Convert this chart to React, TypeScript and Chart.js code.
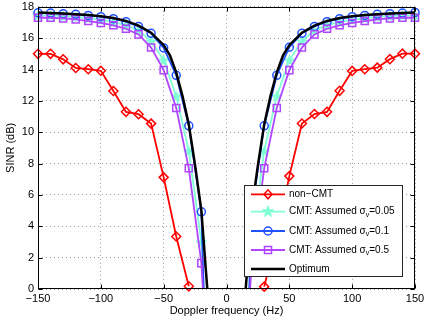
import React, { useEffect, useRef } from 'react';
import { Chart, registerables } from 'chart.js';
Chart.register(...registerables);

const freqs = [-150,-140,-130,-120,-110,-100,-90,-80,-70,-60,-50,-40,-30,-20,-10,0,10,20,30,40,50,60,70,80,90,100,110,120,130,140,150];
const nonCMT = [15.0,15.0,14.65,14.1,14.02,13.92,12.63,11.3,11.15,10.55,7.12,3.35,0.17,null,null,null,null,null,0.15,3.35,7.2,10.56,11.16,11.3,12.64,13.91,14.02,14.12,14.66,15.01,15.01];
const cmt005 = [17.45,17.44,17.4,17.35,17.27,17.17,17.03,16.83,16.5,15.8,14.6,12.3,8.8,3.0,-12,-30,-12,3.0,8.8,12.3,14.6,15.8,16.5,16.83,17.03,17.17,17.27,17.35,17.4,17.44,17.45];
const cmt01 = [17.62,17.6,17.56,17.52,17.45,17.37,17.24,17.05,16.75,16.31,15.38,13.63,10.41,4.92,-22,-40,-22,4.92,10.41,13.63,15.42,16.31,16.75,17.05,17.24,17.37,17.45,17.52,17.56,17.6,17.64];
const cmt05 = [17.3,17.3,17.26,17.2,17.09,16.97,16.82,16.6,16.24,15.4,13.96,11.54,7.7,1.65,-12,-30,-12,1.65,7.7,11.54,13.96,15.4,16.24,16.6,16.82,16.97,17.09,17.2,17.26,17.3,17.3];
const optimumFreqs = [-150,-140,-130,-120,-110,-100,-90,-80,-70,-60,-50,-45,-40,-35,-30,-25,-20,-15,-10,0,10,15,20,25,30,35,40,45,50,60,70,80,90,100,110,120,130,140,150];
const optimum = [17.63,17.6,17.57,17.53,17.47,17.4,17.28,17.1,16.8,16.35,15.55,14.9,13.8,12.3,10.5,7.9,5.0,-0.3,-12,-30,-12,-0.3,5.0,7.9,10.5,12.3,13.8,14.9,15.55,16.35,16.8,17.1,17.28,17.4,17.47,17.53,17.57,17.6,17.63];

const xTicks = [-150, -100, -50, 0, 50, 100, 150];
const yTicks = [0, 2, 4, 6, 8, 10, 12, 14, 16, 18];

const legendEntries = [
  { pre: 'non\u2212CMT', sub: '', post: '', color: '#ff0000', marker: 'diamond', width: 1.8 },
  { pre: 'CMT: Assumed \u03c3', sub: 'v', post: '=0.05', color: '#7fffd4', marker: 'star', width: 1.8 },
  { pre: 'CMT: Assumed \u03c3', sub: 'v', post: '=0.1', color: '#2050ff', marker: 'circle', width: 1.8 },
  { pre: 'CMT: Assumed \u03c3', sub: 'v', post: '=0.5', color: '#b045ff', marker: 'square', width: 1.8 },
  { pre: 'Optimum', sub: '', post: '', color: '#000000', marker: 'none', width: 2.5 },
];

const FONT = '"Liberation Sans", Arial, Helvetica, sans-serif';

function starPath(ctx: CanvasRenderingContext2D, cx: number, cy: number, ro: number, ri: number) {
  ctx.beginPath();
  for (let i = 0; i < 10; i++) {
    const r = i % 2 === 0 ? ro : ri;
    const a = -Math.PI / 2 + (i * Math.PI) / 5;
    const x = cx + r * Math.cos(a);
    const y = cy + r * Math.sin(a);
    if (i === 0) ctx.moveTo(x, y); else ctx.lineTo(x, y);
  }
  ctx.closePath();
}

function makeStar(color: string) {
  const c = document.createElement('canvas');
  c.width = 13; c.height = 13;
  const g = c.getContext('2d')!;
  starPath(g, 6.5, 7, 5.5, 2.2);
  g.fillStyle = color; g.fill();
  g.strokeStyle = color; g.lineWidth = 1; g.stroke();
  return c;
}

function drawMarker(ctx: CanvasRenderingContext2D, kind: string, x: number, y: number, color: string) {
  ctx.save();
  ctx.strokeStyle = color; ctx.fillStyle = color; ctx.lineWidth = 1.5;
  ctx.beginPath();
  if (kind === 'diamond') {
    ctx.moveTo(x - 4, y); ctx.lineTo(x, y - 4.5); ctx.lineTo(x + 4, y); ctx.lineTo(x, y + 4.5); ctx.closePath();
    ctx.stroke();
  } else if (kind === 'circle') {
    ctx.arc(x, y, 4, 0, Math.PI * 2); ctx.stroke();
  } else if (kind === 'square') {
    ctx.rect(x - 3.5, y - 3.5, 7, 7); ctx.stroke();
  } else if (kind === 'star') {
    starPath(ctx, x, y, 6, 2.4); ctx.lineWidth = 1; ctx.fill(); ctx.stroke();
  }
  ctx.restore();
}

const framePlugin = {
  id: 'frame',
  afterDraw(chart: any) {
    const { ctx, chartArea: a, scales } = chart;
    ctx.save();
    ctx.strokeStyle = '#000';
    ctx.lineWidth = 1;
    const L = Math.round(a.left) + 0.5, R = Math.round(a.right) - 0.5;
    const T = Math.round(a.top) + 0.5, B = Math.round(a.bottom) - 0.5;
    ctx.strokeRect(L, T, R - L, B - T);
    ctx.beginPath();
    for (const v of xTicks) {
      const px = Math.round(scales.x.getPixelForValue(v)) + 0.5;
      ctx.moveTo(px, B); ctx.lineTo(px, B - 4);
      ctx.moveTo(px, T); ctx.lineTo(px, T + 4);
    }
    for (const v of yTicks) {
      const py = Math.round(scales.y.getPixelForValue(v)) + 0.5;
      ctx.moveTo(L, py); ctx.lineTo(L + 4, py);
      ctx.moveTo(R, py); ctx.lineTo(R - 4, py);
    }
    ctx.stroke();

    // legend box (inside plot, lower right)
    const w = 159, h = 92;
    const lx = Math.round(a.right) - 12 - w;
    const ly = Math.round(a.bottom) - 12 - h;
    ctx.fillStyle = '#fff';
    ctx.fillRect(lx, ly, w, h);
    ctx.strokeStyle = '#262626';
    ctx.strokeRect(lx + 0.5, ly + 0.5, w - 1, h - 1);
    const rows = [9.3, 26.7, 46, 65, 84];
    legendEntries.forEach((e, i) => {
      const y = ly + rows[i];
      ctx.strokeStyle = e.color;
      ctx.lineWidth = e.width;
      ctx.beginPath();
      ctx.moveTo(lx + 7, y); ctx.lineTo(lx + 41, y);
      ctx.stroke();
      drawMarker(ctx, e.marker, lx + 24, y, e.color);
      ctx.fillStyle = '#000';
      ctx.textBaseline = 'middle';
      ctx.textAlign = 'left';
      ctx.font = '10px ' + FONT;
      let tx = lx + 45;
      ctx.fillText(e.pre, tx, y);
      tx += ctx.measureText(e.pre).width;
      if (e.sub) {
        ctx.font = '7px ' + FONT;
        ctx.fillText(e.sub, tx, y + 3.5);
        tx += ctx.measureText(e.sub).width;
        ctx.font = '10px ' + FONT;
      }
      if (e.post) ctx.fillText(e.post, tx, y);
    });
    ctx.restore();
  },
};

export default function App() {
  const ref = useRef<HTMLCanvasElement>(null);
  useEffect(() => {
    if (!ref.current) return;
    const pts = (xs: number[], ys: (number | null)[]) => xs.map((x, i) => ({ x, y: ys[i] }));
    const clipNoBottom = { left: 8, right: 8, top: 8, bottom: 0 };
    const chart = new Chart(ref.current, {
      type: 'line',
      data: {
        datasets: [
          {
            label: 'Optimum', data: pts(optimumFreqs, optimum), borderColor: '#000', borderWidth: 2.5,
            pointRadius: 0, clip: clipNoBottom as any,
          },
          {
            label: 'CMT 0.5', data: pts(freqs, cmt05), borderColor: '#b045ff', borderWidth: 1.8,
            pointStyle: 'rect', pointRadius: 5, pointBorderWidth: 1.5, pointBorderColor: '#b045ff',
            pointBackgroundColor: 'rgba(0,0,0,0)', clip: clipNoBottom as any,
          },
          {
            label: 'CMT 0.1', data: pts(freqs, cmt01), borderColor: '#2050ff', borderWidth: 1.8,
            pointStyle: 'circle', pointRadius: 4, pointBorderWidth: 1.5, pointBorderColor: '#2050ff',
            pointBackgroundColor: 'rgba(0,0,0,0)', clip: clipNoBottom as any,
          },
          {
            label: 'CMT 0.05', data: pts(freqs, cmt005), borderColor: '#7fffd4', borderWidth: 1.8,
            pointStyle: makeStar('#7fffd4') as any, pointRadius: 5, clip: clipNoBottom as any,
          },
          {
            label: 'non-CMT', data: pts(freqs, nonCMT), borderColor: '#ff0000', borderWidth: 1.8,
            pointStyle: 'rectRot', pointRadius: 4.5, pointBorderWidth: 1.5, pointBorderColor: '#ff0000',
            pointBackgroundColor: 'rgba(0,0,0,0)', clip: 8 as any,
          },
        ],
      },
      options: {
        animation: false,
        responsive: false,
        maintainAspectRatio: false,
        spanGaps: false,
        layout: { padding: { left: 0, right: 10, top: 6, bottom: 0 } },
        plugins: { legend: { display: false }, tooltip: { enabled: false } },
        scales: {
          x: {
            type: 'linear', min: -150, max: 150,
            afterFit: (s: any) => { s.height = 36; s.paddingLeft = 0; s.paddingRight = 0; },
            ticks: {
              stepSize: 50, padding: 3, color: '#000',
              font: { family: FONT, size: 11 },
              callback: (v: any) => String(v).replace('-', '\u2212'),
            },
            grid: { color: 'rgba(0,0,0,0.4)', lineWidth: 1, drawTicks: false },
            border: { display: false, dash: [1, 3] },
            title: {
              display: true, text: 'Doppler frequency (Hz)', color: '#000',
              font: { family: FONT, size: 11 }, padding: { top: 0, bottom: 7 },
            },
          },
          y: {
            type: 'linear', min: 0, max: 18,
            afterFit: (s: any) => { s.width = 38; s.paddingTop = 0; s.paddingBottom = 0; },
            ticks: {
              stepSize: 2, padding: 4, color: '#000',
              font: { family: FONT, size: 11 },
            },
            grid: { color: 'rgba(0,0,0,0.4)', lineWidth: 1, drawTicks: false },
            border: { display: false, dash: [1, 3] },
            title: {
              display: true, text: 'SINR (dB)', color: '#000',
              font: { family: FONT, size: 11 }, padding: { top: 4, bottom: 0 },
            },
          },
        },
      },
      plugins: [framePlugin],
    });
    return () => chart.destroy();
  }, []);
  return (
    <div style={{ position: 'absolute', left: 0, top: 0, width: 425, height: 325 }}>
      <canvas ref={ref} width={425} height={325} />
    </div>
  );
}
